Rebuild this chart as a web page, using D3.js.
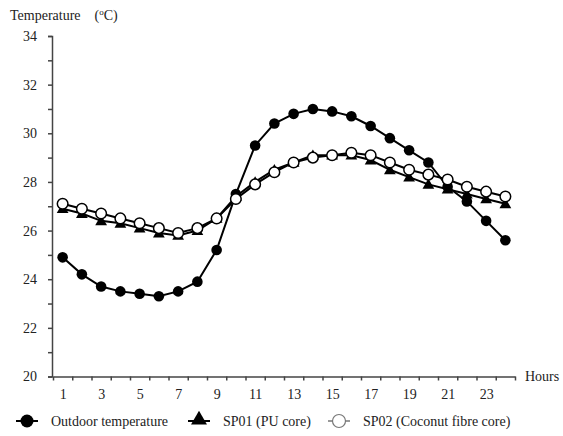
<!DOCTYPE html>
<html lang="en">
<head>
<meta charset="utf-8">
<title>Temperature</title>
<script src="https://d3js.org/d3.v7.min.js"></script>
<style>
  body { margin: 0; background: #fff; }
  text { font-family: "Liberation Serif", "Times New Roman", serif; font-size: 14px; fill: #222; }
</style>
</head>
<body>
<div id="viz"></div>
<script>
// data
const hours = d3.range(1, 25);
const outdoor = [24.9, 24.2, 23.7, 23.5, 23.4, 23.3, 23.5, 23.9, 25.2, 27.5, 29.5, 30.4,
                 30.8, 31.0, 30.9, 30.7, 30.3, 29.8, 29.3, 28.8, 27.8, 27.2, 26.4, 25.6];
const sp01 = [26.9, 26.7, 26.4, 26.3, 26.1, 25.9, 25.8, 26.0, 26.5, 27.4, 28.0, 28.5,
              28.8, 29.1, 29.1, 29.1, 28.9, 28.5, 28.2, 27.9, 27.7, 27.5, 27.3, 27.1];
const sp02 = [27.1, 26.9, 26.7, 26.5, 26.3, 26.1, 25.9, 26.1, 26.5, 27.3, 27.9, 28.4,
              28.8, 29.0, 29.1, 29.2, 29.1, 28.8, 28.5, 28.3, 28.1, 27.8, 27.6, 27.4];
const seriesNames = ["Outdoor temperature", "SP01 (PU core)", "SP02 (Coconut fibre core)"];
const xLabels = [1, 3, 5, 7, 9, 11, 13, 15, 17, 19, 21, 23];
const yTicks = d3.range(20, 35, 1);

const width = 563, height = 436;

const svg = d3.select("#viz")
  .append("svg")
    .attr("width", width)
    .attr("height", height);

// x: each hour is a slot, ticks on the slot edges
const x = d3.scaleLinear().domain([0.5, 24.5]).range([53, 515]);
const y = d3.scaleLinear().domain([20, 34]).range([376.5, 36]);

// y axis
const yAxis = svg.append("g")
  .attr("transform", "translate(52,0)")
  .call(d3.axisLeft(y).tickValues(yTicks).tickSize(4).tickPadding(11)
    .tickFormat(d => d % 2 === 0 ? d : ""));
yAxis.select(".domain").attr("stroke", "#444").attr("stroke-width", 1.5);
yAxis.selectAll(".tick line").attr("stroke", "#444").attr("stroke-width", 1.5);
yAxis.selectAll(".tick text").attr("font-size", 14).attr("font-family", null);

// x axis, tick marks on slot edges
const xAxis = svg.append("g")
  .attr("transform", `translate(0,${y(20)})`)
  .call(d3.axisBottom(x).tickValues(d3.range(0.5, 25, 1)).tickSize(4).tickSizeOuter(0)
    .tickFormat(""));
xAxis.select(".domain").attr("stroke", "#444").attr("stroke-width", 1.5);
xAxis.selectAll(".tick line").attr("stroke", "#444").attr("stroke-width", 1.5);

// x labels in slot centres
const xLab = svg.append("g")
  .attr("transform", `translate(0,${y(20)})`)
  .call(d3.axisBottom(x).tickValues(xLabels).tickSize(0).tickPadding(13));
xLab.select(".domain").remove();
xLab.selectAll(".tick text").attr("font-size", 14).attr("font-family", null);

svg.append("text").attr("x", 525).attr("y", 381).text("Hours");

// y title
const title = svg.append("text").attr("x", 10).attr("y", 20);
title.append("tspan").text("Temperature");
title.append("tspan").attr("dx", 14).text("(");
title.append("tspan").attr("dy", -5).attr("font-size", 9).text("o");
title.append("tspan").attr("dy", 5).text("C)");

const line = d3.line()
  .x((d, i) => x(hours[i]))
  .y(d => y(d));

const tri = d3.symbol().type(d3.symbolTriangle).size(60);

// outdoor
svg.append("path").datum(outdoor)
  .attr("fill", "none").attr("stroke", "#000").attr("stroke-width", 2)
  .attr("d", line);
svg.append("g").selectAll("circle").data(outdoor).join("circle")
  .attr("cx", (d, i) => x(hours[i]))
  .attr("cy", d => y(d))
  .attr("r", 5.3)
  .attr("fill", "#000");

// SP01
svg.append("path").datum(sp01)
  .attr("fill", "none").attr("stroke", "#000").attr("stroke-width", 2)
  .attr("d", line);
svg.append("g").selectAll("path").data(sp01).join("path")
  .attr("transform", (d, i) => `translate(${x(hours[i])},${y(d) + 1})`)
  .attr("d", tri)
  .attr("fill", "#000");

// SP02
svg.append("path").datum(sp02)
  .attr("fill", "none").attr("stroke", "#000").attr("stroke-width", 2)
  .attr("d", line);
svg.append("g").selectAll("circle").data(sp02).join("circle")
  .attr("cx", (d, i) => x(hours[i]))
  .attr("cy", d => y(d))
  .attr("r", 5.3)
  .attr("fill", "#fff")
  .attr("stroke", "#000")
  .attr("stroke-width", 1.5);

// legend
const legendX = [16, 188, 328];
const legY = 421;
const leg = svg.append("g").selectAll("g").data(seriesNames).join("g")
  .attr("transform", (d, i) => `translate(${legendX[i]},${legY})`);
leg.append("line")
  .attr("x1", 0).attr("x2", 22)
  .attr("stroke", (d, i) => i === 2 ? "#555" : "#000")
  .attr("stroke-width", (d, i) => i === 2 ? 1.2 : 2);
leg.each(function(d, i) {
  const g = d3.select(this);
  if (i === 0) {
    g.append("circle").attr("cx", 11).attr("r", 6.5).attr("fill", "#000");
  } else if (i === 1) {
    g.append("path").attr("transform", "translate(11,-1)")
      .attr("d", d3.symbol().type(d3.symbolTriangle).size(110)).attr("fill", "#000");
  } else {
    g.append("circle").attr("cx", 11).attr("r", 6.5)
      .attr("fill", "#fff").attr("stroke", "#777").attr("stroke-width", 1.2);
  }
});
leg.append("text")
  .attr("x", (d, i) => [35, 35, 35][i])
  .attr("y", 5)
  .text(d => d);
</script>
</body>
</html>
